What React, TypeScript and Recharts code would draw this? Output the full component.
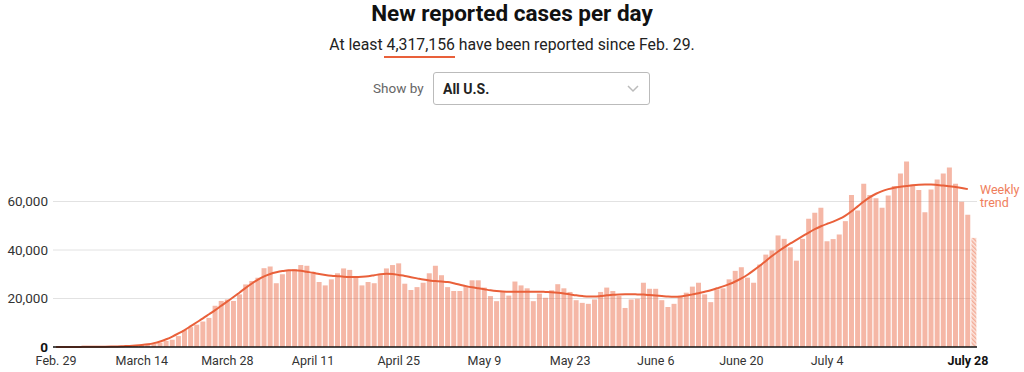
import { Bar, Cell, CartesianGrid, ComposedChart, Line, XAxis, YAxis } from "recharts";

// daily reported cases, Feb. 29 .. July 28 (last day is partial)
const cases = [
  10, 10, 20, 25, 30, 70, 60, 100, 120, 180,
  280, 400, 500, 700, 800, 1000, 1300, 1800, 2500, 3000,
  4500, 7000, 8200, 9200, 10500, 12000, 17000, 19000, 19600, 19000,
  21700, 25800, 27200, 28600, 32500, 33200, 26300, 30000, 31400, 32100,
  33800, 33500, 31000, 26800, 25400, 27900, 30400, 32400, 31800, 28600,
  25400, 26800, 26300, 29600, 32400, 33800, 34500, 26100, 23500, 24700,
  26500, 30400, 33500, 29600, 24700, 23100, 23100, 25200, 27500, 27500,
  24500, 21000, 18900, 23100, 21200, 27000, 25400, 24200, 18900, 22000,
  20300, 23400, 25900, 24200, 22700, 19300, 18200, 17800, 19600, 22700,
  24500, 23100, 21000, 16100, 19600, 19900, 26500, 24000, 24000, 19300,
  16500, 17800, 21000, 22400, 24900, 26500, 21700, 18500, 23800, 24200,
  27900, 31400, 32900, 28600, 26500, 34000, 38100, 39800, 46000, 44600,
  41100, 35600, 44600, 52900, 55400, 57400, 43600, 44500, 46400, 51900,
  62700, 56300, 67300, 62700, 61300, 57400, 62500, 66400, 71500, 76500,
  67000, 64700, 55600, 65000, 69100, 71500, 74000, 67300, 59900, 54500,
  45000,
];

// weekly trend line (no value for the partial day)
const trend = [
  0, 0, 0, 0, 50, 100, 100, 100, 150, 200,
  250, 350, 450, 600, 800, 1100, 1600, 2300, 3200, 4300,
  5600, 7000, 8600, 10200, 11800, 13500, 15200, 17000, 18800, 20600,
  22500, 24400, 26200, 27800, 29100, 30100, 30800, 31300, 31600, 31600,
  31400, 31000, 30600, 30100, 29700, 29400, 29200, 29000, 28900, 28900,
  29000, 29200, 29600, 30000, 30200, 30100, 29700, 29300, 28800, 28300,
  27800, 27400, 27200, 27000, 26800, 26300, 25700, 25100, 24600, 24200,
  23800, 23400, 23100, 22900, 22800, 22800, 22800, 22800, 22800, 22800,
  22700, 22600, 22400, 22100, 21700, 21300, 21000, 20800, 20800, 21000,
  21300, 21500, 21700, 21800, 21800, 21700, 21600, 21400, 21200, 21000,
  20800, 20700, 20800, 21200, 21700, 22200, 22800, 23400, 24200, 25000,
  25900, 27000, 28300, 29800, 31600, 33500, 35500, 37500, 39400, 41100,
  42700, 44200, 45700, 47200, 48600, 49800, 50800, 51700, 52800, 54200,
  56000, 58000, 60000, 61800, 63200, 64300, 65100, 65700, 66100, 66400,
  66700, 66900, 67000, 67000, 66800, 66600, 66300, 66000, 65600, 65100,
  null,
];

const tickDays = [0, 14, 28, 42, 56, 70, 84, 98, 112, 126, 150];
const tickLabels = [
  "Feb. 29", "March 14", "March 28", "April 11", "April 25", "May 9",
  "May 23", "June 6", "June 20", "July 4", "July 28",
];
const yTicks = [0, 20000, 40000, 60000];

const data = cases.map((v, i) => ({ day: i, cases: v, trend: trend[i] }));

const RED = "#e9603a";
const FONT = "Roboto, 'Liberation Sans', Arial, sans-serif";

function XTick({ x, payload }: any) {
  const idx = tickDays.indexOf(payload.value);
  const last = idx === tickDays.length - 1;
  return (
    <text
      x={x}
      y={364.5}
      dx={last ? -6 : 0}
      textAnchor="middle"
      fontSize={12.5}
      fontFamily={FONT}
      fontWeight={last ? 700 : 400}
      fill={last ? "#111" : "#333"}
    >
      {tickLabels[idx]}
    </text>
  );
}

function YTick({ y, payload }: any) {
  const zero = payload.value === 0;
  return (
    <text
      x={48}
      y={y}
      dy={4.5}
      textAnchor="end"
      fontSize={13.5}
      fontFamily={FONT}
      fontWeight={zero ? 700 : 400}
      fill={zero ? "#111" : "#333"}
    >
      {payload.value.toLocaleString("en-US")}
    </text>
  );
}

export default function App() {
  return (
    <div
      style={{
        position: "absolute",
        left: 0,
        top: 0,
        width: 1024,
        height: 372,
        background: "#fff",
        fontFamily: FONT,
        overflow: "hidden",
      }}
    >
      <svg width={0} height={0} style={{ position: "absolute" }}>
        <defs>
          <pattern id="hatch" patternUnits="userSpaceOnUse" width={3} height={3} patternTransform="rotate(-45)">
            <rect width={3} height={3} fill="#fbe3db" />
            <rect width={1.4} height={3} fill="#f3ab96" />
          </pattern>
        </defs>
      </svg>

      <div style={{ position: "absolute", left: 0, width: 1024, top: -1, lineHeight: "28px", textAlign: "center", fontSize: 22.5, fontWeight: 700, color: "#111" }}>
        New reported cases per day
      </div>
      <div style={{ position: "absolute", left: 0, width: 1024, top: 34, lineHeight: "22px", textAlign: "center", fontSize: 15.8, color: "#222" }}>
        At least 4,317,156 have been reported since Feb. 29.
      </div>
      <div style={{ position: "absolute", left: 384, top: 56, width: 71, height: 2, background: RED }} />

      <div style={{ position: "absolute", left: 373, top: 78, lineHeight: "20px", fontSize: 13.5, color: "#666" }}>Show by</div>
      <div
        style={{
          position: "absolute",
          left: 433,
          top: 72,
          width: 217,
          height: 33,
          boxSizing: "border-box",
          border: "1px solid #bbb",
          borderRadius: 3,
        }}
      >
        <div style={{ position: "absolute", left: 9, top: 6, lineHeight: "20px", fontSize: 14, fontWeight: 700, color: "#222" }}>All U.S.</div>
        <svg style={{ position: "absolute", left: 193, top: 12 }} width={12} height={8}>
          <polyline points="1,1 6,6 11,1" fill="none" stroke="#bbb" strokeWidth={1.5} />
        </svg>
      </div>

      <div style={{ position: "absolute", left: 980, top: 183, lineHeight: "13px", fontSize: 12.5, color: "#ef7e5c" }}>
        Weekly
        <br />
        trend
      </div>

      <div style={{ position: "absolute", left: 0, top: 0 }}>
        <ComposedChart
          width={1024}
          height={372}
          data={data}
          margin={{ top: 153, right: 47, bottom: 5, left: 0 }}
          barCategoryGap="8%"
        >
          <CartesianGrid vertical={false} stroke="#e2e2e2" horizontalValues={[20000, 40000, 60000]} />
          <XAxis
            dataKey="day"
            type="category"
            ticks={tickDays}
            interval={0}
            height={20}
            tickLine={false}
            axisLine={{ stroke: "#111", strokeWidth: 1.5 }}
            tick={<XTick />}
          />
          <YAxis
            width={53}
            domain={[0, 80000]}
            ticks={yTicks}
            axisLine={false}
            tickLine={false}
            tick={<YTick />}
          />
          <Bar dataKey="cases" fill={RED} fillOpacity={0.45} isAnimationActive={false}>
            {data.map((d, i) => (
              <Cell
                key={d.day}
                fill={i === data.length - 1 ? "url(#hatch)" : RED}
                fillOpacity={i === data.length - 1 ? 1 : 0.45}
              />
            ))}
          </Bar>
          <Line
            dataKey="trend"
            type="monotone"
            stroke={RED}
            strokeWidth={2}
            dot={false}
            activeDot={false}
            isAnimationActive={false}
          />
        </ComposedChart>
      </div>
    </div>
  );
}
